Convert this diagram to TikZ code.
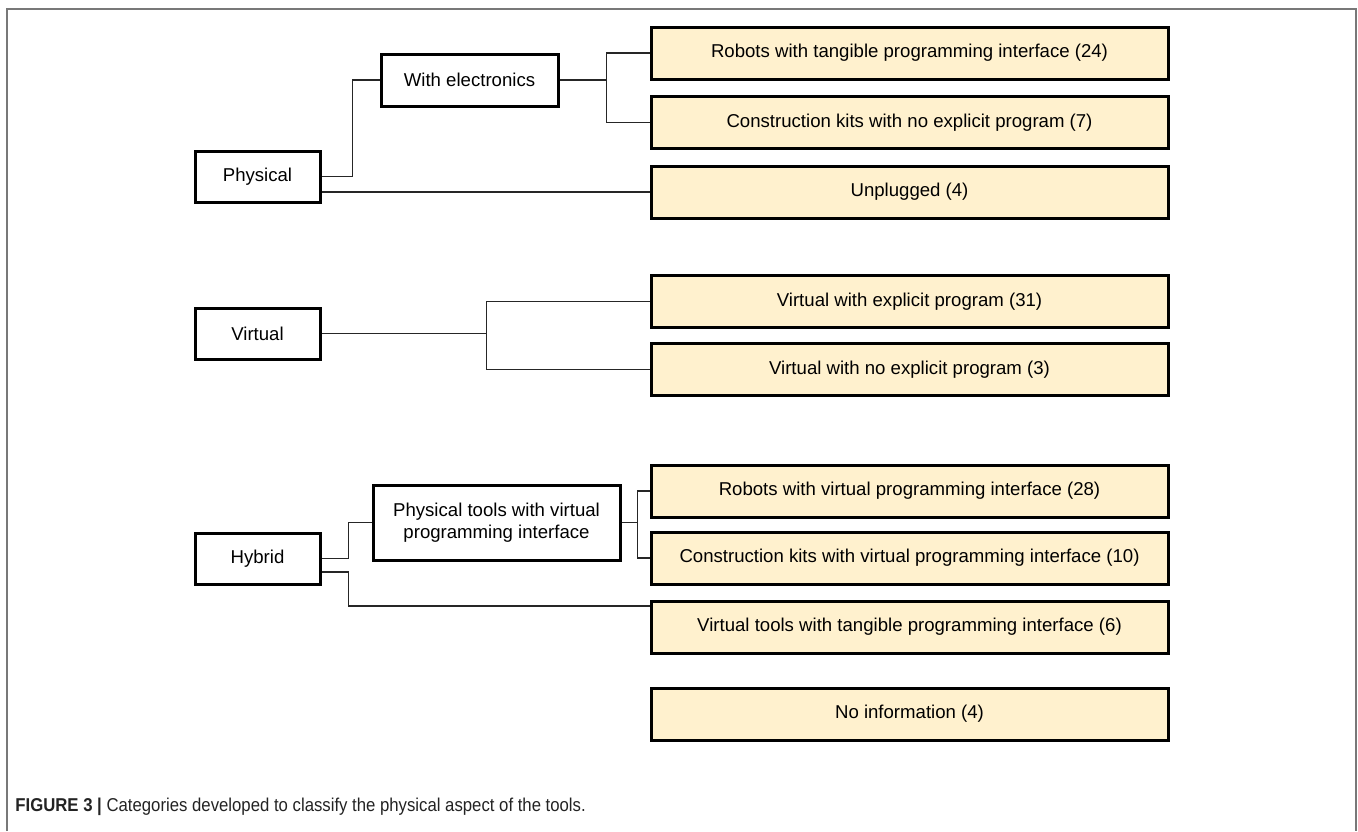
\documentclass[tikz,border=0pt]{standalone}
\usepackage{fontspec}
\setmainfont{Liberation Sans}
\newfontfamily\capfont[FakeStretch=0.9]{Liberation Sans}
\usetikzlibrary{calc,positioning}
\definecolor{leafFill}{RGB}{255,241,206}
\definecolor{frameGray}{RGB}{120,120,120}
\definecolor{capGray}{RGB}{35,35,35}

\tikzset{
  catbox/.style={draw=black, line width=1.5pt, fill=white, inner sep=0pt,
    minimum width=62.5pt, minimum height=25.5pt,
    font=\fontsize{9.3}{11.2}\selectfont},
  subbox/.style={catbox, align=center},
  leafbox/.style={catbox, fill=leafFill, minimum width=258.5pt, minimum height=26pt},
  wire/.style={line width=0.8pt, black!85}
}

\begin{document}
\begin{tikzpicture}[x=0.5pt,y=-0.5pt]
    \useasboundingbox (0,0) rectangle (1358,831);
    \draw[frameGray, line width=1pt] (7,831) -- (7,9) -- (1356,9) -- (1356,831);

    % left column
    \node[catbox] (phys) at (257.5,176.5) {Physical};
    \node[catbox] (virt) at (257.5,333.5) {Virtual};
    \node[catbox] (hyb) at (257.5,558.5) {Hybrid};

    % middle column
    \node[subbox, minimum width=88.5pt, minimum height=26pt] (elec) at (469.5,80) {With electronics};
    \node[subbox, minimum width=123.5pt, minimum height=37.5pt] (ptvi) at (496.5,522.5) {Physical tools with virtual\\programming interface};

    % right column
    \node[leafbox] (rtan) at (909.5,53) {Robots with tangible programming interface (24)};
    \node[leafbox] (ckno) at (909.5,122.5) {Construction kits with no explicit program (7)};
    \node[leafbox] (unpl) at (909.5,192) {Unplugged (4)};
    \node[leafbox] (vexp) at (909.5,301.5) {Virtual with explicit program (31)};
    \node[leafbox] (vnoe) at (909.5,369.5) {Virtual with no explicit program (3)};
    \node[leafbox] (rvir) at (909.5,491) {Robots with virtual programming interface (28)};
    \node[leafbox] (ckvi) at (909.5,558) {Construction kits with virtual programming interface (10)};
    \node[leafbox] (vtan) at (909.5,627) {Virtual tools with tangible programming interface (6)};
    \node[leafbox] (noinf) at (909.5,714) {No information (4)};

    % physical
    \draw[wire] (phys.east) -- ++(31,0) |- (elec.west);
    \draw[wire] (phys.east |- unpl.west) -- (unpl.west);
    \draw[wire] (elec.east) -- ++(47,0) coordinate (ej);
    \draw[wire] (rtan.west) -| (ej) |- (ckno.west);

    % virtual
    \draw[wire] (virt.east) -- ++(165,0) coordinate (vj);
    \draw[wire] (vexp.west) -| (vj) |- (vnoe.west);

    % hybrid
    \draw[wire] (hyb.east) -- ++(27,0) |- (ptvi.west);
    \draw[wire] ($(hyb.east)+(0,13.5)$) -- ++(27,0) |- ($(vtan.west)+(0,-21)$);
    \draw[wire] (ptvi.east) -- ++(16,0) coordinate (pj);
    \draw[wire] (rvir.west) -| (pj) |- (ckvi.west);

    \node[anchor=base west, text=capGray, inner sep=0pt,
      font=\capfont\fontsize{9.3}{11}\selectfont] (cap) at (15,811)
      {\textbf{FIGURE 3 |} Categories developed to classify the physical aspect of the tools.};
\end{tikzpicture}
\end{document}
